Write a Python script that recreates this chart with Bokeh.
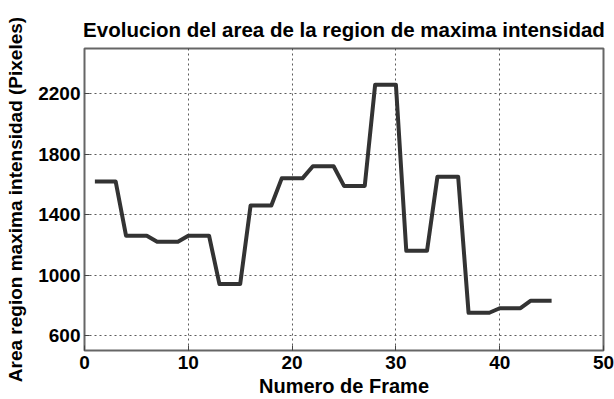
from bokeh.plotting import figure
from bokeh.models import Range1d, FixedTicker
from bokeh.embed import file_html
from bokeh.resources import INLINE

# Area of the maximum-intensity region, one value per frame
frames = list(range(1, 46))
area_px = [1620, 1620, 1620, 1260, 1260, 1260, 1220, 1220, 1220,
           1260, 1260, 1260, 940, 940, 940, 1460, 1460, 1460,
           1640, 1640, 1640, 1720, 1720, 1720, 1590, 1590, 1590,
           2260, 2260, 2260, 1160, 1160, 1160, 1650, 1650, 1650,
           750, 750, 750, 780, 780, 780, 830, 830, 830]
x_ticks = [0, 10, 20, 30, 40, 50]
y_ticks = [600, 1000, 1400, 1800, 2200]

FONT = "Liberation Sans"

p = figure(width=614, height=399, output_backend="svg", toolbar_location=None,
           x_range=Range1d(0, 50), y_range=Range1d(500, 2500),
           title="Evolucion del area de la region de maxima intensidad")
p.min_border_left = 84
p.min_border_right = 11
p.min_border_top = 48
p.min_border_bottom = 47
p.background_fill_color = "white"
p.border_fill_color = "white"
p.outline_line_color = "#666666"
p.outline_line_width = 2

p.title.text_font = FONT
p.title.text_font_size = "20.5px"
p.title.text_font_style = "bold"
p.title.align = "center"
p.title.text_color = "black"
p.title.standoff = 16

p.line(frames, area_px, line_color="#333333", line_width=4, line_join="round")

for ax in (p.xaxis[0], p.yaxis[0]):
    ax.axis_line_color = None
    ax.major_tick_in = 5
    ax.major_tick_out = 0
    ax.minor_tick_line_color = None
    ax.major_tick_line_color = "#444444"
    ax.major_label_text_font = FONT
    ax.major_label_text_font_size = "19px"
    ax.major_label_text_font_style = "bold"
    ax.major_label_text_color = "black"
    ax.axis_label_text_font = FONT
    ax.axis_label_text_font_style = "bold"
    ax.axis_label_text_color = "black"

p.xaxis.axis_label_text_font_size = "20px"
p.yaxis.axis_label_text_font_size = "19px"
p.xaxis.ticker = FixedTicker(ticks=x_ticks)
p.yaxis.ticker = FixedTicker(ticks=y_ticks)
p.xaxis.axis_label = "Numero de Frame"
p.yaxis.axis_label = "Area region maxima intensidad (Pixeles)"
p.xaxis.major_label_standoff = 5
p.xaxis.axis_label_standoff = 3
p.yaxis.major_label_standoff = 4
p.yaxis.axis_label_standoff = 9

p.grid.grid_line_color = "#333333"
p.grid.grid_line_dash = "2 3"
p.grid.grid_line_width = 1
p.grid.grid_line_alpha = 0.8

open("out.html", "w").write(file_html(p, INLINE))
